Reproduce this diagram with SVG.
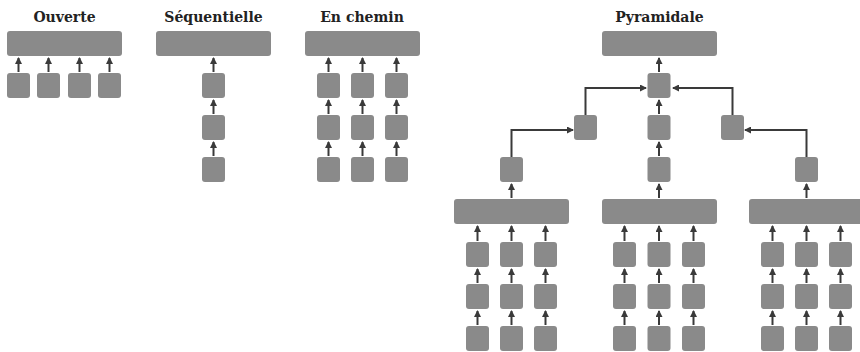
<svg xmlns="http://www.w3.org/2000/svg" width="860" height="352" viewBox="0 0 860 352">
<style>
.t{font-family:"DejaVu Serif","Liberation Serif",serif;font-weight:bold;font-size:14px;fill:#222;text-anchor:middle}
.b{fill:#8a8a8a}
.c{fill:none;stroke:#3a3a3a;stroke-width:2}
.a{marker-end:url(#ah)}
</style>
<defs>
<marker id="ah" markerUnits="userSpaceOnUse" markerWidth="7" markerHeight="7" refX="6" refY="3.5" orient="auto">
<path d="M0,0 L7,3.5 L0,7 z" fill="#3a3a3a"/>
</marker>
<rect id="sq" class="b" width="23" height="25" rx="3"/>
<rect id="bar" class="b" width="115" height="25" rx="3"/>
</defs>
<rect width="860" height="352" fill="#fff"/>
<g id="titles">
<text class="t" x="64.5" y="22">Ouverte</text>
<text class="t" x="213.5" y="22">Séquentielle</text>
<text class="t" x="362" y="22">En chemin</text>
<text class="t" x="659.5" y="22">Pyramidale</text>
</g>
<g id="ouverte">
<use href="#bar" x="7" y="31"/>
<use href="#sq" x="7" y="73"/><use href="#sq" x="37" y="73"/><use href="#sq" x="68" y="73"/><use href="#sq" x="98" y="73"/>
</g>
<g id="sequentielle">
<use href="#bar" x="156" y="31"/>
<use href="#sq" x="202" y="73"/><use href="#sq" x="202" y="115"/><use href="#sq" x="202" y="157"/>
</g>
<g id="enchemin">
<use href="#bar" x="305" y="31"/>
<use href="#sq" x="317" y="73"/><use href="#sq" x="351" y="73"/><use href="#sq" x="385" y="73"/>
<use href="#sq" x="317" y="115"/><use href="#sq" x="351" y="115"/><use href="#sq" x="385" y="115"/>
<use href="#sq" x="317" y="157"/><use href="#sq" x="351" y="157"/><use href="#sq" x="385" y="157"/>
</g>
<g id="pyramidale">
<use href="#bar" x="602" y="31"/>
<use href="#sq" x="647.5" y="73"/>
<use href="#sq" x="574" y="115"/><use href="#sq" x="647.5" y="115"/><use href="#sq" x="721" y="115"/>
<use href="#sq" x="500" y="157"/><use href="#sq" x="647.5" y="157"/><use href="#sq" x="795" y="157"/>
<use href="#bar" x="454" y="199"/><use href="#bar" x="602" y="199"/><use href="#bar" x="749" y="199"/>
<use href="#sq" x="466" y="242"/><use href="#sq" x="500" y="242"/><use href="#sq" x="534" y="242"/>
<use href="#sq" x="466" y="284"/><use href="#sq" x="500" y="284"/><use href="#sq" x="534" y="284"/>
<use href="#sq" x="466" y="326"/><use href="#sq" x="500" y="326"/><use href="#sq" x="534" y="326"/>
<use href="#sq" x="613" y="242"/><use href="#sq" x="647.5" y="242"/><use href="#sq" x="682" y="242"/>
<use href="#sq" x="613" y="284"/><use href="#sq" x="647.5" y="284"/><use href="#sq" x="682" y="284"/>
<use href="#sq" x="613" y="326"/><use href="#sq" x="647.5" y="326"/><use href="#sq" x="682" y="326"/>
<use href="#sq" x="761" y="242"/><use href="#sq" x="795" y="242"/><use href="#sq" x="829" y="242"/>
<use href="#sq" x="761" y="284"/><use href="#sq" x="795" y="284"/><use href="#sq" x="829" y="284"/>
<use href="#sq" x="761" y="326"/><use href="#sq" x="795" y="326"/><use href="#sq" x="829" y="326"/>
</g>
<g id="connectors" class="c">
<path class="a" d="M18.5,72V58"/><path class="a" d="M48.5,72V58"/><path class="a" d="M79.5,72V58"/><path class="a" d="M109.5,72V58"/>
<path class="a" d="M213.5,72V58"/><path class="a" d="M213.5,114V100"/><path class="a" d="M213.5,156V142"/>
<path class="a" d="M328.5,72V58"/><path class="a" d="M362.5,72V58"/><path class="a" d="M396.5,72V58"/>
<path class="a" d="M328.5,114V100"/><path class="a" d="M362.5,114V100"/><path class="a" d="M396.5,114V100"/>
<path class="a" d="M328.5,156V142"/><path class="a" d="M362.5,156V142"/><path class="a" d="M396.5,156V142"/>
<path class="a" d="M659,72V58"/><path class="a" d="M659,114V100"/><path class="a" d="M659,156V142"/>
<path class="a" d="M585.5,115V88H646"/>
<path class="a" d="M732.5,115V88H673"/>
<path class="a" d="M511.5,157V130H573"/>
<path class="a" d="M806.5,157V130H745"/>
<path class="a" d="M511.5,198V184"/><path class="a" d="M659,198V184"/><path class="a" d="M806.5,198V184"/>
<path class="a" d="M477.5,241V226"/><path class="a" d="M511.5,241V226"/><path class="a" d="M545.5,241V226"/>
<path class="a" d="M477.5,283V269"/><path class="a" d="M511.5,283V269"/><path class="a" d="M545.5,283V269"/>
<path class="a" d="M477.5,325V311"/><path class="a" d="M511.5,325V311"/><path class="a" d="M545.5,325V311"/>
<path class="a" d="M624.5,241V226"/><path class="a" d="M659,241V226"/><path class="a" d="M693.5,241V226"/>
<path class="a" d="M624.5,283V269"/><path class="a" d="M659,283V269"/><path class="a" d="M693.5,283V269"/>
<path class="a" d="M624.5,325V311"/><path class="a" d="M659,325V311"/><path class="a" d="M693.5,325V311"/>
<path class="a" d="M772.5,241V226"/><path class="a" d="M806.5,241V226"/><path class="a" d="M840.5,241V226"/>
<path class="a" d="M772.5,283V269"/><path class="a" d="M806.5,283V269"/><path class="a" d="M840.5,283V269"/>
<path class="a" d="M772.5,325V311"/><path class="a" d="M806.5,325V311"/><path class="a" d="M840.5,325V311"/>
</g>
</svg>
